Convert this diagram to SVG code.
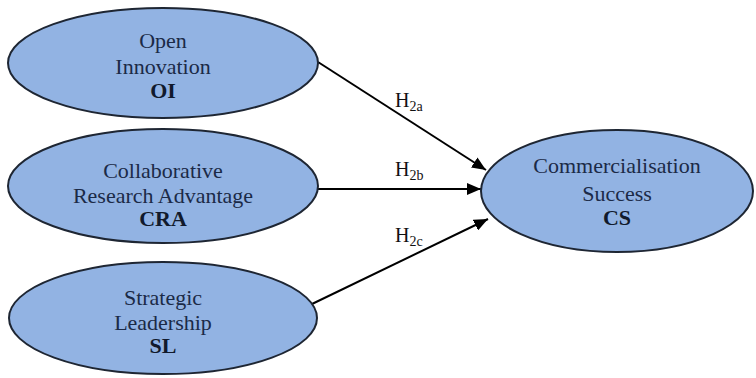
<svg xmlns="http://www.w3.org/2000/svg" width="756" height="378" viewBox="0 0 756 378">
  <defs>
    <marker id="arrowhead" markerUnits="userSpaceOnUse" markerWidth="15" markerHeight="12" refX="14" refY="6" orient="auto">
      <path d="M0,0 L14,6 L0,12 Z" fill="#000"/>
    </marker>
    <style>
      .node ellipse { fill: #92b3e3; stroke: #1e2633; stroke-width: 2; }
      .node text { font-family: "Liberation Serif", "Times New Roman", serif; font-size: 22px; fill: #1b2a47; text-anchor: middle; }
      .node text.abbr { font-weight: bold; fill: #111a2c; }
      .edge { stroke: #000; stroke-width: 2; fill: none; marker-end: url(#arrowhead); }
      .hyp { font-family: "Liberation Serif", "Times New Roman", serif; font-size: 20px; fill: #111; }
      .hyp tspan.sub { font-size: 14px; }
    </style>
  </defs>
  <rect width="756" height="378" fill="#fff"/>

  <g id="connectors">
    <path class="edge" d="M318,62 L486,170"/>
    <path class="edge" d="M318,189 L481,189"/>
    <path class="edge" d="M312,304 L488,219"/>
    <text class="hyp" x="395" y="107">H<tspan class="sub" dy="4">2a</tspan></text>
    <text class="hyp" x="395" y="176">H<tspan class="sub" dy="4">2b</tspan></text>
    <text class="hyp" x="395" y="242">H<tspan class="sub" dy="4">2c</tspan></text>
  </g>

  <g id="node-oi" class="node">
    <ellipse cx="163" cy="63" rx="155" ry="55"/>
    <text x="163" y="48">Open</text>
    <text x="163" y="74">Innovation</text>
    <text class="abbr" x="163" y="98">OI</text>
  </g>

  <g id="node-cra" class="node">
    <ellipse cx="163" cy="186" rx="155" ry="57"/>
    <text x="163" y="178">Collaborative</text>
    <text x="163" y="203">Research Advantage</text>
    <text class="abbr" x="163" y="226">CRA</text>
  </g>

  <g id="node-sl" class="node">
    <ellipse cx="163" cy="318" rx="154" ry="56"/>
    <text x="163" y="305">Strategic</text>
    <text x="163" y="330">Leadership</text>
    <text class="abbr" x="163" y="353">SL</text>
  </g>

  <g id="node-cs" class="node">
    <ellipse cx="617" cy="191" rx="136" ry="61"/>
    <text x="617" y="173">Commercialisation</text>
    <text x="617" y="201">Success</text>
    <text class="abbr" x="617" y="225">CS</text>
  </g>
</svg>
